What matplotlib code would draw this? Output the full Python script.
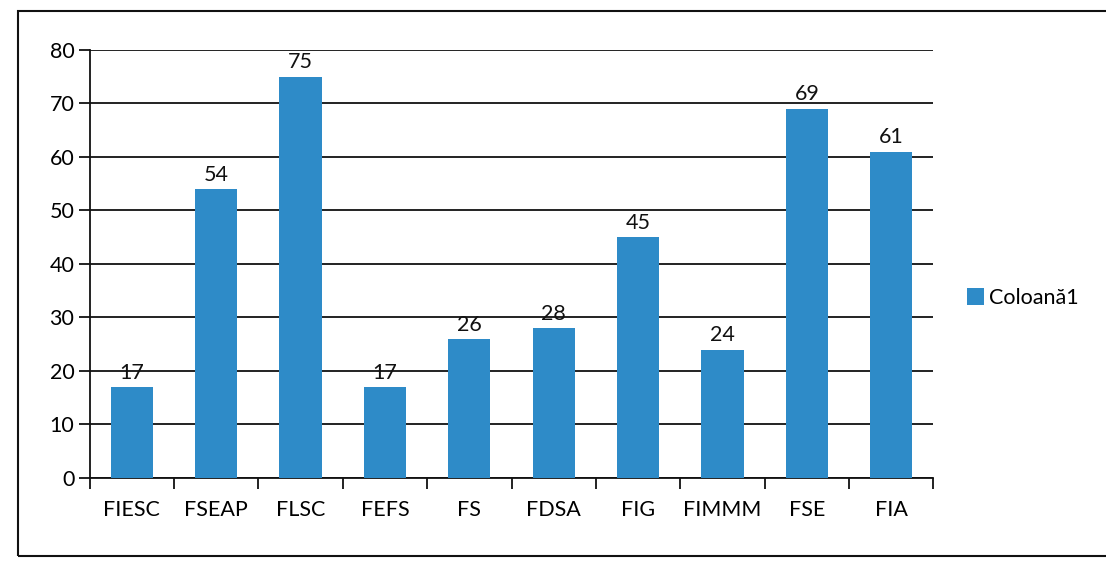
import matplotlib
matplotlib.use("agg")
import matplotlib.pyplot as plt
import numpy as np
from matplotlib.patches import Rectangle

categories = ['FIESC', 'FSEAP', 'FLSC', 'FEFS', 'FS', 'FDSA', 'FIG', 'FIMMM', 'FSE', 'FIA']
values = [17, 54, 75, 17, 26, 28, 45, 24, 69, 61]
series_name = 'Coloană1'

plt.rcParams['font.family'] = ['Lato', 'DejaVu Sans']

fig = plt.figure(figsize=(11.06, 5.67), dpi=100)
ax = fig.add_axes([0.081, 0.157, 0.763, 0.755])

x = np.arange(len(categories))
bars = ax.bar(x, values, width=0.5, color='#2E8BC8', label=series_name, zorder=3)
for b, v in zip(bars, values):
    ax.text(b.get_x() + b.get_width() / 2, v + 0.8, str(v), ha='center', va='bottom',
            fontsize=15.5, color='#111111')

ax.set_xlim(-0.5, len(categories) - 0.5)
ax.set_ylim(0, 80)
ax.set_yticks(range(0, 81, 10))
ax.yaxis.grid(True, color='#111111', linewidth=1.3, zorder=1)
ax.set_xticks(x)
ax.set_xticklabels(categories)
ax.set_xticks(np.arange(-0.5, len(categories)), minor=True)
ax.tick_params(axis='x', which='major', length=0, pad=16, labelsize=15.5)
ax.tick_params(axis='x', which='minor', length=8, width=1.3, color='#111111')
ax.tick_params(axis='y', length=8, width=1.3, labelsize=15.5, pad=3, color='#111111')
for s in ['top', 'right']:
    ax.spines[s].set_visible(False)
for s in ['left', 'bottom']:
    ax.spines[s].set_linewidth(1.3)
    ax.spines[s].set_color('#111111')

ax.legend(loc='center left', bbox_to_anchor=(1.04, 0.42), frameon=False, fontsize=15.5,
          handlelength=0.8, handleheight=0.8, handletextpad=0.2, borderpad=0,
          borderaxespad=0)

fig.patches.append(Rectangle((0.016, 0.02), 0.99, 0.96, transform=fig.transFigure,
                             fill=False, edgecolor='#111111', linewidth=1.5))

fig.savefig('out.png', dpi=100)
